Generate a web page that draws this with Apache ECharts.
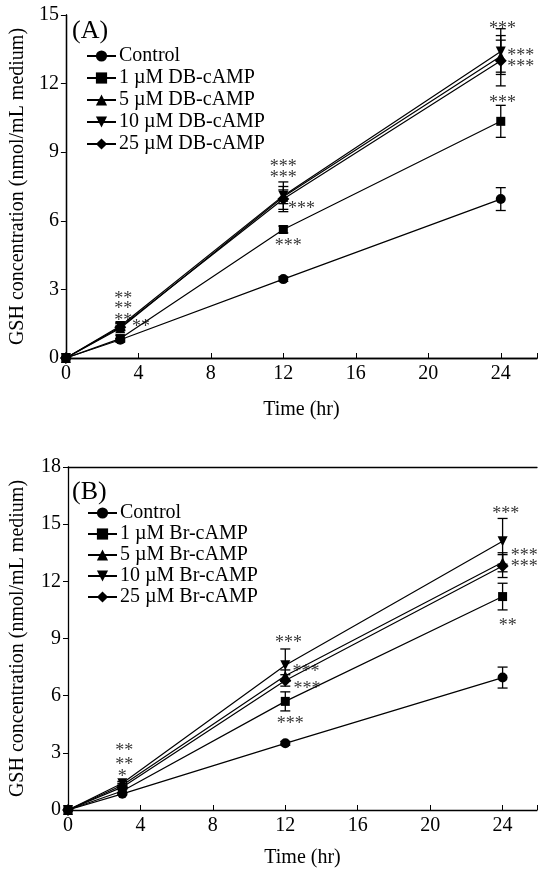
<!DOCTYPE html>
<html><head><meta charset="utf-8">
<script src="https://cdn.jsdelivr.net/npm/echarts/dist/echarts.min.js"></script>
<style>html,body{margin:0;padding:0;background:#fff}#c{width:540px;height:874px}</style>
</head><body><div id="c"></div>
<script>
// ---------- data ----------
const hours = [0, 3, 12, 24];
const xTicks = [0, 4, 8, 12, 16, 20, 24];
const yTicksA = [0, 3, 6, 9, 12, 15];
const yTicksB = [0, 3, 6, 9, 12, 15, 18];

const namesA = ['Control', '1 µM DB-cAMP', '5 µM DB-cAMP', '10 µM DB-cAMP', '25 µM DB-cAMP'];
const namesB = ['Control', '1 µM Br-cAMP', '5 µM Br-cAMP', '10 µM Br-cAMP', '25 µM Br-cAMP'];

// Panel A values (nmol/mL) and SE
const ctrlA = [0, 0.8, 3.45, 6.95];
const ctrlAErr = [0, 0.05, 0.1, 0.5];
const db1 = [0, 0.85, 5.62, 10.35];
const db1Err = [0, 0.15, 0.15, 0.7];
const db5 = [0, 1.3, 7.05, 13.2];
const db5Err = [0, 0.1, 0.3, 0.7];
const db10 = [0, 1.4, 7.1, 13.4];
const db10Err = [0, 0.15, 0.6, 1.0];
const db25 = [0, 1.35, 6.95, 13.0];
const db25Err = [0, 0.15, 0.55, 1.1];

// Panel B values and SE
const ctrlB = [0, 0.85, 3.5, 6.95];
const ctrlBErr = [0, 0.05, 0.1, 0.55];
const br1 = [0, 1.0, 5.7, 11.2];
const br1Err = [0, 0.1, 0.5, 0.7];
const br5 = [0, 1.3, 7.05, 13.0];
const br5Err = [0, 0.1, 0.3, 0.5];
const br10 = [0, 1.4, 7.6, 14.1];
const br10Err = [0, 0.1, 0.85, 1.2];
const br25 = [0, 1.2, 6.8, 12.8];
const br25Err = [0, 0.1, 0.3, 0.6];

// significance marks: [hour, value, text]
const starsA = [
  [3.16, 2.75, '**'], [3.16, 2.32, '**'], [3.16, 1.79, '**'], [4.15, 1.53, '**'],
  [12.0, 8.53, '***'], [12.0, 8.05, '***'], [13.0, 6.69, '***'], [12.27, 5.07, '***'],
  [24.1, 14.56, '***'], [25.1, 13.38, '***'], [25.1, 12.9, '***'], [24.1, 11.32, '***']
];
const starsB = [
  [3.11, 3.31, '**'], [3.11, 2.57, '**'], [3.0, 1.94, '*'],
  [12.17, 8.97, '***'], [13.15, 7.45, '***'], [13.2, 6.56, '***'], [12.27, 4.72, '***'],
  [24.17, 15.74, '***'], [25.2, 13.54, '***'], [25.2, 12.96, '***'], [24.28, 9.86, '**']
];

// ---------- chart ----------
const F = '"Liberation Serif","Times New Roman",serif';
const DOWN = 'path://M0,0L10,0L5,9Z';
const symbols = ['circle', 'rect', 'triangle', DOWN, 'diamond'];
const sizes = [10, 9, 10, 10, 12];

const setsA = [[ctrlA, ctrlAErr], [db1, db1Err], [db5, db5Err], [db10, db10Err], [db25, db25Err]];
const setsB = [[ctrlB, ctrlBErr], [br1, br1Err], [br5, br5Err], [br10, br10Err], [br25, br25Err]];

function errSeries(sets, xi, yi) {
  const data = [];
  sets.forEach(([v, e]) => hours.forEach((h, j) => { if (e[j] > 0) data.push([h, v[j], e[j]]); }));
  return {
    type: 'custom', xAxisIndex: xi, yAxisIndex: yi, z: 2, silent: true,
    renderItem: function (params, api) {
      const x = api.value(0), y = api.value(1), e = api.value(2);
      const t = api.coord([x, y + e]), b = api.coord([x, y - e]);
      const s = { stroke: '#000', lineWidth: 1.3 };
      return { type: 'group', children: [
        { type: 'line', shape: { x1: t[0], y1: t[1], x2: b[0], y2: b[1] }, style: s },
        { type: 'line', shape: { x1: t[0] - 5, y1: t[1], x2: t[0] + 5, y2: t[1] }, style: s },
        { type: 'line', shape: { x1: b[0] - 5, y1: b[1], x2: b[0] + 5, y2: b[1] }, style: s }
      ] };
    },
    data: data
  };
}
function lineSeries(names, sets, xi, yi) {
  return sets.map(([v], i) => ({
    type: 'line', name: names[i], xAxisIndex: xi, yAxisIndex: yi, z: 3,
    data: hours.map((h, j) => [h, v[j]]),
    symbol: symbols[i], symbolSize: sizes[i], showAllSymbol: true,
    lineStyle: { color: '#000', width: 1.2 }, itemStyle: { color: '#000' },
    emphasis: { disabled: true }, animation: false
  }));
}
function starSeries(stars, xi, yi) {
  return {
    type: 'scatter', xAxisIndex: xi, yAxisIndex: yi, symbolSize: 0, z: 5, silent: true,
    data: stars.map(s => ({ value: [s[0], s[1]], name: s[2] })),
    label: { show: true, position: 'inside', formatter: '{b}', color: '#000',
      fontFamily: F, fontSize: 18, offset: [0, 4] }
  };
}
const xLab = { fontFamily: F, fontSize: 20, color: '#000', margin: 6,
  formatter: v => (v % 4 === 0 ? String(v) : '') };
const yLab = { fontFamily: F, fontSize: 20, color: '#000', margin: 7 };
const axLine = { show: true, lineStyle: { color: '#000', width: 1.3 } };
const nameStyle = { fontFamily: F, fontSize: 20, color: '#000' };

const option = {
  backgroundColor: '#fff',
  animation: false,
  title: [
    { text: '(A)', left: 72, top: 18, padding: 0, textStyle: { fontFamily: F, fontSize: 26, fontWeight: 'normal', color: '#000' } },
    { text: '(B)', left: 72, top: 479, padding: 0, textStyle: { fontFamily: F, fontSize: 26, fontWeight: 'normal', color: '#000' } }
  ],
  legend: [
    { data: namesA, orient: 'vertical', left: 86, top: 46, padding: 0, itemWidth: 29, itemHeight: 14, itemGap: 2,
      selectedMode: false, textStyle: { fontFamily: F, fontSize: 20, color: '#000', lineHeight: 20, padding: [0, 0, 0, -2] } },
    { data: namesB, orient: 'vertical', left: 87, top: 503, padding: 0, itemWidth: 29, itemHeight: 14, itemGap: 1,
      selectedMode: false, textStyle: { fontFamily: F, fontSize: 20, color: '#000', lineHeight: 20, padding: [0, 0, 0, -2] } }
  ],
  grid: [
    { left: 62, top: 15, width: 476.6, height: 343 },
    { left: 65, top: 467, width: 475, height: 343 }
  ],
  xAxis: [
    { type: 'value', gridIndex: 0, min: 0, max: 26, interval: 4, name: 'Time (hr)', nameLocation: 'middle', nameGap: 42,
      nameTextStyle: nameStyle, axisLine: axLine, axisTick: { inside: true, length: 5, lineStyle: { color: '#000' } },
      axisLabel: xLab, splitLine: { show: false } },
    { type: 'value', gridIndex: 0, position: 'top', min: 0, max: 26, axisLine: axLine, axisTick: { show: false },
      axisLabel: { show: false }, splitLine: { show: false } },
    { type: 'value', gridIndex: 1, min: 0, max: 25.9, interval: 4, name: 'Time (hr)', nameLocation: 'middle', nameGap: 38,
      nameTextStyle: nameStyle, axisLine: axLine, axisTick: { inside: true, length: 5, lineStyle: { color: '#000' } },
      axisLabel: xLab, splitLine: { show: false } },
    { type: 'value', gridIndex: 1, position: 'top', min: 0, max: 25.9, axisLine: axLine, axisTick: { show: false },
      axisLabel: { show: false }, splitLine: { show: false } }
  ],
  yAxis: [
    { type: 'value', gridIndex: 0, min: yTicksA[0], max: yTicksA[yTicksA.length - 1], interval: 3,
      name: 'GSH concentration (nmol/mL medium)', nameLocation: 'middle', nameGap: 37, nameTextStyle: nameStyle,
      axisLine: axLine, axisTick: { length: 5, lineStyle: { color: '#000' } }, axisLabel: yLab, splitLine: { show: false } },
    { type: 'value', gridIndex: 0, position: 'right', min: 0, max: 15, axisLine: axLine, axisTick: { show: false },
      axisLabel: { show: false }, splitLine: { show: false } },
    { type: 'value', gridIndex: 1, min: yTicksB[0], max: yTicksB[yTicksB.length - 1], interval: 3,
      name: 'GSH concentration (nmol/mL medium)', nameLocation: 'middle', nameGap: 40, nameTextStyle: nameStyle,
      axisLine: axLine, axisTick: { length: 5, lineStyle: { color: '#000' } }, axisLabel: yLab, splitLine: { show: false } }
  ],
  series: [].concat(
    errSeries(setsA, 0, 0), lineSeries(namesA, setsA, 0, 0), starSeries(starsA, 0, 0),
    errSeries(setsB, 2, 2), lineSeries(namesB, setsB, 2, 2), starSeries(starsB, 2, 2)
  )
};
const chart = echarts.init(document.getElementById('c'), null, { renderer: 'canvas' });
chart.setOption(option);
</script></body></html>
